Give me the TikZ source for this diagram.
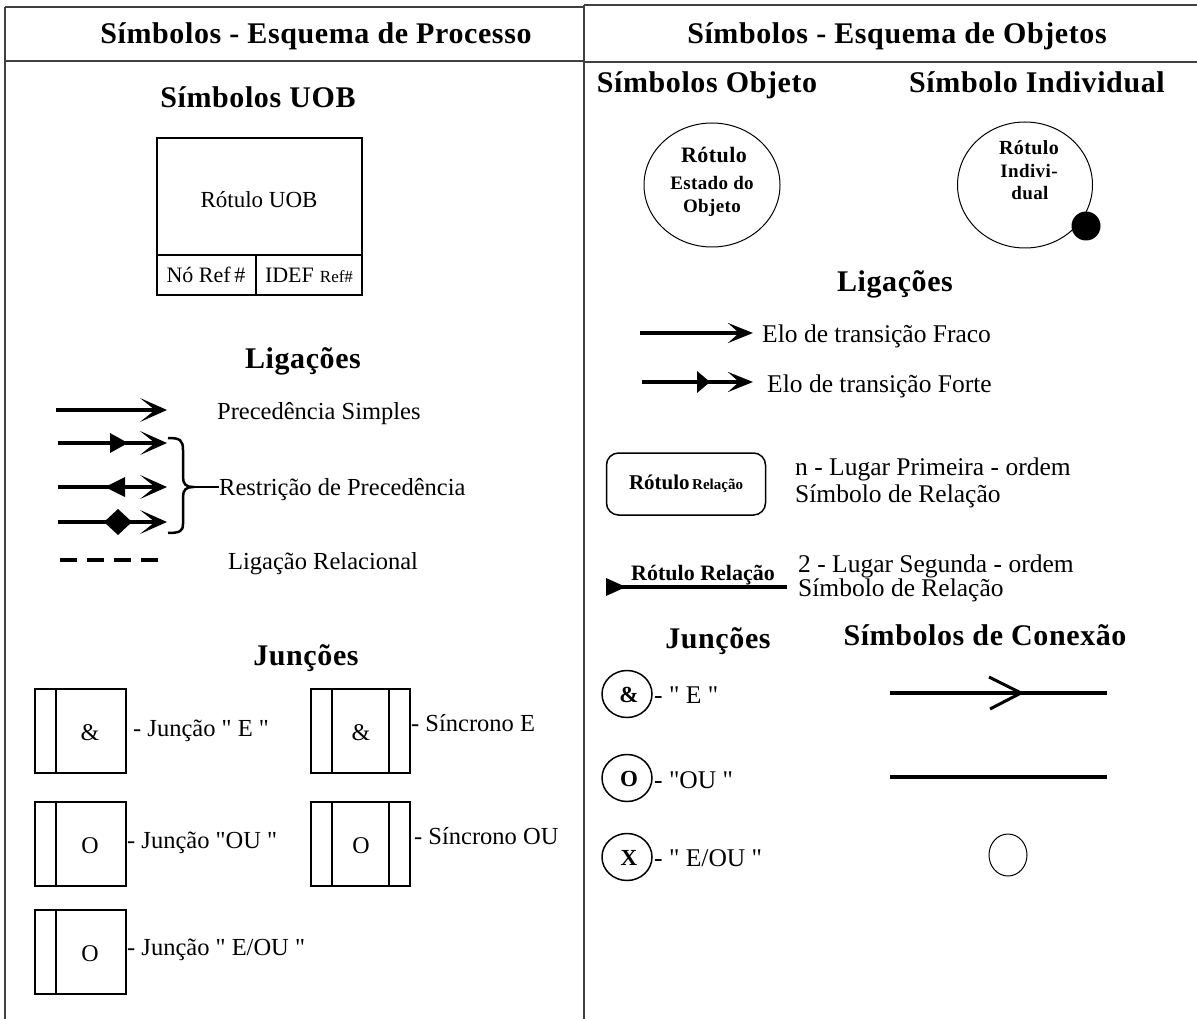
\documentclass[tikz,border=0pt]{standalone}
\usepackage{fontspec}
\setmainfont{Liberation Serif}[Ligatures=TeXOff]
\newfontfamily\hdfamily{Liberation Serif}[Ligatures=TeXOff, LetterSpace=2]
\usetikzlibrary{arrows.meta,shapes.geometric}
\definecolor{framecol}{HTML}{404040}
\tikzset{
  hd/.style={font=\hdfamily\bfseries\fontsize{30}{32}\selectfont, inner sep=0pt, anchor=base},
  lbl/.style={font=\fontsize{24.5}{27}\selectfont, inner sep=0pt, anchor=base west},
  rlbl/.style={font=\fontsize{25.5}{28}\selectfont, inner sep=0pt, anchor=base west},
  frameline/.style={draw=framecol, line width=2.2pt},
  boxline/.style={draw, line width=2pt},
  bigarrow/.style={line width=4pt, -{Stealth[length=27pt,width=24pt,inset=15pt]}},
  eloarrow/.style={line width=4pt, -{Stealth[length=25pt,width=20pt,inset=11pt]}},
  thickline/.style={line width=4pt},
  jcirc/.style={draw, ellipse, line width=1.5pt, minimum width=50pt, minimum height=47pt, inner sep=0pt},
  jcl/.style={font=\fontsize{23}{25}\selectfont\bfseries, inner sep=0pt, anchor=base},
  jtext/.style={font=\fontsize{24}{26}\selectfont, inner sep=0pt, anchor=base}
}
\begin{document}
\begin{tikzpicture}[x=1pt,y=-1pt]
\useasboundingbox (0,0) rectangle (1197,1019);
\fill[white] (0,0) rectangle (1197,1019);
% frame
\draw[frameline] (5,7) -- (584,7);
\draw[frameline] (584,5) -- (1197,5);
\draw[frameline] (5,7) -- (5,1019);
\draw[frameline] (584,5) -- (584,1019);
\draw[frameline] (5,61) -- (584,61);
\draw[frameline] (584,62) -- (1197,62);
% headers
\node[hd] (hleft) at (316,44) {Símbolos - Esquema de Processo};
\node[hd] (hright) at (897,44) {Símbolos - Esquema de Objetos};
% ---------------- LEFT ----------------
\node[hd] (huob) at (258,108) {Símbolos UOB};
\draw[boxline] (157,138) rectangle (362,295);
\draw[boxline] (157,255) -- (362,255);
\draw[boxline] (256,255) -- (256,295);
\node[jtext, anchor=center, font=\fontsize{23}{26}\selectfont] (uobl) at (259,200) {Rótulo UOB};
\node[jtext, font=\fontsize{22}{26}\selectfont] (noref) at (206,283) {Nó Ref\,\#};
\node[jtext] (idef) at (309,283) {{\fontsize{22}{26}\selectfont IDEF} {\fontsize{17}{20}\selectfont Ref\#}};
\node[hd] (hlig) at (303,368) {Ligações};
% arrows
\coordinate (p1a) at (56,410); \coordinate (p1b) at (167,410);
\draw[bigarrow] (p1a) -- (p1b);
\node[lbl] (lprec) at (217,419) {Precedência Simples};
\coordinate (p2a) at (58,443); \coordinate (p2b) at (167,443);
\draw[bigarrow] (p2a) -- (p2b);
\fill (110,433) -- (128,443) -- (110,453) -- cycle;
\coordinate (p3a) at (58,487); \coordinate (p3b) at (167,487);
\draw[bigarrow] (p3a) -- (p3b);
\fill (125,477) -- (105,487) -- (125,497) -- cycle;
\coordinate (p4a) at (58,522); \coordinate (p4b) at (167,522);
\draw[bigarrow] (p4a) -- (p4b);
\fill (104,522) -- (118,509) -- (132,522) -- (118,535) -- cycle;
% brace
\coordinate (btip) at (193,487);
\draw[line width=2.5pt] (168,438) .. controls (180,438) and (183,440) .. (183,450) -- (183,477) .. controls (183,484) and (186,487) .. (btip) .. controls (186,487) and (183,490) .. (183,497) -- (183,524) .. controls (183,531) and (180,533) .. (168,533);
\node[lbl] (lrestr) at (219,495) {Restrição de Precedência};
\draw[line width=2.5pt] (btip) -- (lrestr.west |- btip);
\coordinate (d1a) at (60,560); \coordinate (d1b) at (158,560);
\draw[thickline, dash pattern=on 17pt off 10pt] (d1a) -- (d1b);
\node[lbl] (lrel) at (228,569) {Ligação Relacional};
% junctions
\node[hd] (hjun) at (306,665) {Junções};
\draw[boxline] (35,689) rectangle (126,773); \draw[boxline] (56,689) -- (56,773);
\node[jtext] (j1) at (90,740) {\&};
\node[lbl] (lj1) at (133,736) {- Junção " E "};
\draw[boxline] (311,689) rectangle (410,773); \draw[boxline] (332,689) -- (332,773); \draw[boxline] (389,689) -- (389,773);
\node[jtext] (j2) at (361,740) {\&};
\node[lbl] (lj2) at (411,731) {- Síncrono E};
\draw[boxline] (35,802) rectangle (126,886); \draw[boxline] (56,802) -- (56,886);
\node[jtext] (j3) at (90,853) {O};
\node[lbl] (lj3) at (127,848) {- Junção "OU "};
\draw[boxline] (311,802) rectangle (410,886); \draw[boxline] (332,802) -- (332,886); \draw[boxline] (389,802) -- (389,886);
\node[jtext] (j4) at (361,853) {O};
\node[lbl] (lj4) at (414,844) {- Síncrono OU};
\draw[boxline] (35,910) rectangle (126,994); \draw[boxline] (56,910) -- (56,994);
\node[jtext] (j5) at (90,961) {O};
\node[lbl] (lj5) at (127,955) {- Junção " E/OU "};
% ---------------- RIGHT ----------------
\node[hd] (hobj) at (707,93) {Símbolos Objeto};
\node[hd] (hind) at (1037,93) {Símbolo Individual};
\node[draw, ellipse, line width=1pt, minimum width=136pt, minimum height=124pt, inner sep=0pt] (objc) at (712,185) {};
\node[inner sep=0pt, anchor=base, font=\hdfamily\bfseries\fontsize{22}{24}\selectfont] (objt1) at (714,163) {Rótulo};
\node[inner sep=0pt, anchor=base, font=\hdfamily\bfseries\fontsize{19}{22}\selectfont] (objt2) at (712,190) {Estado do};
\node[inner sep=0pt, anchor=base, font=\hdfamily\bfseries\fontsize{19}{22}\selectfont] (objt3) at (712,213) {Objeto};
\node[draw, ellipse, line width=1pt, minimum width=135pt, minimum height=126pt, inner sep=0pt] (indc) at (1025,185) {};
\node[inner sep=0pt, anchor=base, font=\hdfamily\bfseries\fontsize{20}{22}\selectfont] (indt1) at (1029,155) {Rótulo};
\node[inner sep=0pt, anchor=base, font=\hdfamily\bfseries\fontsize{19}{22}\selectfont] (indt2) at (1029,178) {Indivi-};
\node[inner sep=0pt, anchor=base, font=\hdfamily\bfseries\fontsize{19}{22}\selectfont] (indt3) at (1030,200) {dual};
\node[fill, circle, minimum size=29pt, inner sep=0pt] (dot) at (1086,226) {};
\node[hd] (hlig2) at (895,291) {Ligações};
\coordinate (e1a) at (640,333); \coordinate (e1b) at (753,333);
\draw[eloarrow] (e1a) -- (e1b);
\node[rlbl] (le1) at (762,342) {Elo de transição Fraco};
\coordinate (e2a) at (642,382); \coordinate (e2b) at (753,382);
\draw[eloarrow] (e2a) -- (e2b);
\fill (697,371) -- (710,382) -- (697,393) -- cycle;
\node[rlbl] (le2) at (767,392) {Elo de transição Forte};
\node[draw, rounded corners=12pt, line width=1.5pt, minimum width=159pt, minimum height=62pt, inner sep=0pt] (relbox) at (686,484) {{\fontsize{21}{24}\selectfont\bfseries Rótulo} {\fontsize{15}{18}\selectfont\bfseries Relação}};
\node[rlbl] (lr1a) at (795,475) {n - Lugar Primeira - ordem};
\node[rlbl] (lr1b) at (795,502) {Símbolo de Relação};
\coordinate (r2a) at (607,587); \coordinate (r2b) at (787,587);
\draw[thickline] (r2a) -- (r2b);
\fill (606,578) -- (626,587) -- (606,596) -- cycle;
\node[inner sep=0pt, anchor=base, font=\fontsize{22}{24}\selectfont\bfseries] (rel2) at (703,580) {Rótulo Relação};
\node[rlbl] (lr2a) at (798,572) {2 - Lugar Segunda - ordem};
\node[rlbl] (lr2b) at (798,596) {Símbolo de Relação};
\node[hd] (hjun2) at (718,648) {Junções};
\node[hd] (hcon) at (985,645) {Símbolos de Conexão};
\node[jcirc] (jc1) at (627,694) {};
\node[jcl] (jc1t) at (629,702) {\&};
\node[rlbl] (ljc1) at (654,703) {- " E "};
\node[jcirc] (jc2) at (627,778) {};
\node[jcl] (jc2t) at (629,786) {O};
\node[rlbl] (ljc2) at (654,788) {- "OU "};
\node[jcirc] (jc3) at (627,857) {};
\node[jcl] (jc3t) at (629,865) {X};
\node[rlbl] (ljc3) at (654,866) {- " E/OU "};
\coordinate (c1a) at (890,693); \coordinate (c1b) at (1107,693);
\draw[thickline] (c1a) -- (c1b);
\draw[line width=3pt] (989,677) -- (1021,693) -- (990,709);
\coordinate (c2a) at (890,777); \coordinate (c2b) at (1107,777);
\draw[thickline] (c2a) -- (c2b);
\node[draw, ellipse, line width=1pt, minimum width=38pt, minimum height=42pt, inner sep=0pt] (cc) at (1008,855) {};
\end{tikzpicture}
\end{document}
